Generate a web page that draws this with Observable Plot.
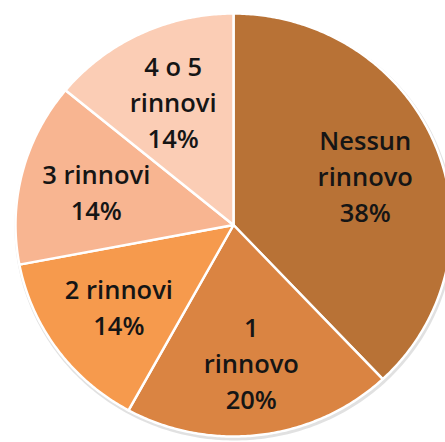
<!DOCTYPE html>
<html>
<head>
<meta charset="utf-8">
<script src="https://cdn.jsdelivr.net/npm/d3@7"></script>
<script src="https://cdn.jsdelivr.net/npm/@observablehq/plot@0.6"></script>
<style>
  html, body { margin: 0; padding: 0; background: #ffffff; }
  #chart { width: 445px; height: 442px; overflow: hidden; }
</style>
</head>
<body>
<div id="chart"></div>
<script>
const categories = ["Nessun rinnovo", "1 rinnovo", "2 rinnovi", "3 rinnovi", "4 o 5 rinnovi"];
const values = [38, 20, 14, 14, 14];
const labelLines = ["Nessun\nrinnovo", "1\nrinnovo", "2 rinnovi", "3 rinnovi", "4 o 5\nrinnovi"];
const colors = ["#b87236", "#da8442", "#f69a4d", "#f8b591", "#fbcdb5"];

const W = 445, H = 442;
const cx = 233, cy = 224.5, RX = 218, RY = 211.5;   // pixel layout of the (slightly stretched) pie

const arcs = d3.pie().sort(null).value((d, i) => values[i])(categories);

// slice outlines in unit-circle coordinates (y up), sampled along each arc
const slicePts = [];
arcs.forEach((a, i) => {
  const cat = categories[i];
  slicePts.push({cat, x: 0, y: 0});
  const n = Math.max(8, Math.ceil((a.endAngle - a.startAngle) / 0.01));
  for (let k = 0; k <= n; k++) {
    const t = a.startAngle + (a.endAngle - a.startAngle) * k / n;
    slicePts.push({cat, x: Math.sin(t), y: Math.cos(t)});
  }
  slicePts.push({cat, x: 0, y: 0});
});

const shadowPts = d3.range(0, 361).map(d => {
  const t = d * Math.PI / 180;
  return {x: Math.sin(t), y: Math.cos(t)};
});

const labelR = 0.65;
const labels = arcs.map((a, i) => {
  const m = (a.startAngle + a.endAngle) / 2;
  return {
    x: labelR * Math.sin(m),
    y: labelR * Math.cos(m),
    text: labelLines[i] + "\n" + values[i] + "%"
  };
});

const chart = Plot.plot({
  width: W,
  height: H,
  margin: 0,
  x: {domain: [-cx / RX, (W - cx) / RX], range: [0, W], axis: null},
  y: {domain: [-(H - cy) / RY, cy / RY], range: [H, 0], axis: null},
  color: {domain: categories, range: colors},
  style: {background: "#ffffff"},
  marks: [
    Plot.line(shadowPts, {x: "x", y: "y", stroke: "#9a9a9a", strokeWidth: 4, strokeOpacity: 0.3, dx: 1, dy: 2}),
    Plot.line(slicePts, {x: "x", y: "y", z: "cat", fill: "cat", stroke: "#ffffff", strokeWidth: 2.5, strokeLinejoin: "round"}),
    Plot.text(labels, {
      x: "x", y: "y", text: "text",
      fontSize: 25.5, lineHeight: 1.41,
      fontFamily: "'Open Sans', Lato, sans-serif",
      fontWeight: 600,
      fill: "#151515",
      textAnchor: "middle"
    })
  ]
});

document.getElementById("chart").appendChild(chart);
</script>
</body>
</html>
